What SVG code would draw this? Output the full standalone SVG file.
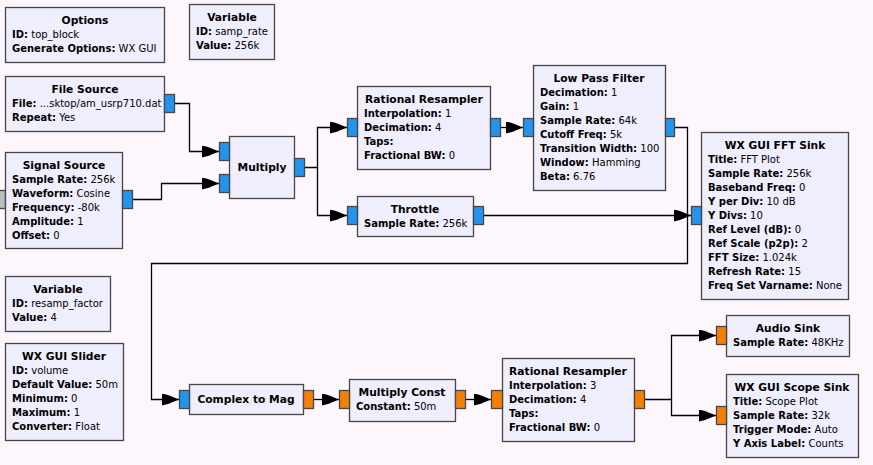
<svg xmlns="http://www.w3.org/2000/svg" width="873" height="465" viewBox="0 0 873 465">
<defs>
<style>
.bg{fill:#FDF6FD}
.blk{fill:#EEEEFC;stroke:#474747;stroke-width:1.3}
.pc{fill:#2394EE;stroke:#474747;stroke-width:1.3}
.pf{fill:#F57F00;stroke:#474747;stroke-width:1.3}
.pg{fill:#BDBDBD;stroke:#474747;stroke-width:1.3}
text{font-family:"DejaVu Sans",sans-serif;font-size:10px;fill:#000}
.ti{font-weight:bold;text-anchor:middle;font-size:10.7px}
.k{font-weight:bold}
.w{fill:none;stroke:#000;stroke-width:1.3}
</style>
<marker id="ar" markerUnits="userSpaceOnUse" markerWidth="18" markerHeight="12" refX="17" refY="6" orient="auto">
<path d="M0,0 L6,1.5 L17,6 L6,10.5 L0,12 Z" fill="#000"/>
</marker>
</defs>
<rect class="bg" x="0" y="0" width="873" height="465"/>

<g id="connectors">
<path class="w" d="M174,103.5 H189.5 V151.5 H219" marker-end="url(#ar)"/>
<path class="w" d="M132,199.5 H161.5 V183.5 H219" marker-end="url(#ar)"/>
<path class="w" d="M304,167.5 H317.5 V127.5 H347" marker-end="url(#ar)"/>
<path class="w" d="M317.5,167.5 V215.5 H347" marker-end="url(#ar)"/>
<path class="w" d="M500,127.5 H523" marker-end="url(#ar)"/>
<path class="w" d="M483,215.5 H691" marker-end="url(#ar)"/>
<path class="w" d="M674,127.5 H687.5 V263.5 H151.5 V399.5 H179" marker-end="url(#ar)"/>
<path class="w" d="M313,399.5 H339" marker-end="url(#ar)"/>
<path class="w" d="M465,399.5 H491" marker-end="url(#ar)"/>
<path class="w" d="M644,399.5 H671.5 V335.5 H716" marker-end="url(#ar)"/>
<path class="w" d="M671.5,399.5 V415.5 H716" marker-end="url(#ar)"/>
</g>

<g id="options">
<rect class="blk" x="5.5" y="7.5" width="159" height="55"/>
<text class="ti" x="85" y="24">Options</text>
<text x="12" y="38"><tspan class="k">ID:</tspan> top_block</text>
<text x="12" y="52"><tspan class="k">Generate Options:</tspan> WX GUI</text>
</g>

<g id="var_samp_rate">
<rect class="blk" x="189.5" y="4.5" width="85" height="55"/>
<text class="ti" x="232" y="21">Variable</text>
<text x="196" y="35"><tspan class="k">ID:</tspan> samp_rate</text>
<text x="196" y="49"><tspan class="k">Value:</tspan> 256k</text>
</g>

<g id="file_source">
<rect class="blk" x="5.5" y="76.5" width="159" height="55"/>
<text class="ti" x="85" y="93">File Source</text>
<text x="12" y="107"><tspan class="k">File:</tspan> ...sktop/am_usrp710.dat</text>
<text x="12" y="121"><tspan class="k">Repeat:</tspan> Yes</text>
<rect class="pc" x="164.5" y="94.5" width="10" height="18"/>
</g>

<g id="signal_source">
<rect class="pg" x="-5.5" y="190.5" width="11" height="18"/>
<rect class="blk" x="5.5" y="152.5" width="117" height="96"/>
<text class="ti" x="64" y="169">Signal Source</text>
<text x="12" y="183"><tspan class="k">Sample Rate:</tspan> 256k</text>
<text x="12" y="197"><tspan class="k">Waveform:</tspan> Cosine</text>
<text x="12" y="211"><tspan class="k">Frequency:</tspan> -80k</text>
<text x="12" y="225"><tspan class="k">Amplitude:</tspan> 1</text>
<text x="12" y="239"><tspan class="k">Offset:</tspan> 0</text>
<rect class="pc" x="122.5" y="190.5" width="10" height="18"/>
</g>

<g id="multiply">
<rect class="blk" x="229.5" y="136.5" width="65" height="62"/>
<text class="ti" x="262" y="171">Multiply</text>
<rect class="pc" x="219.5" y="142.5" width="10" height="18"/>
<rect class="pc" x="219.5" y="174.5" width="10" height="18"/>
<rect class="pc" x="294.5" y="158.5" width="10" height="18"/>
</g>

<g id="rational_resampler_1">
<rect class="blk" x="357.5" y="86.5" width="133" height="83"/>
<text class="ti" x="424" y="103">Rational Resampler</text>
<text x="364" y="117"><tspan class="k">Interpolation:</tspan> 1</text>
<text x="364" y="131"><tspan class="k">Decimation:</tspan> 4</text>
<text x="364" y="145"><tspan class="k">Taps:</tspan></text>
<text x="364" y="159"><tspan class="k">Fractional BW:</tspan> 0</text>
<rect class="pc" x="347.5" y="118.5" width="10" height="18"/>
<rect class="pc" x="490.5" y="118.5" width="10" height="18"/>
</g>

<g id="throttle">
<rect class="blk" x="357.5" y="196.5" width="116" height="40"/>
<text class="ti" x="415" y="213">Throttle</text>
<text x="364" y="227"><tspan class="k">Sample Rate:</tspan> 256k</text>
<rect class="pc" x="347.5" y="206.5" width="10" height="18"/>
<rect class="pc" x="473.5" y="206.5" width="10" height="18"/>
</g>

<g id="low_pass_filter">
<rect class="blk" x="533.5" y="65.5" width="132" height="125"/>
<text class="ti" x="599" y="82">Low Pass Filter</text>
<text x="540" y="96"><tspan class="k">Decimation:</tspan> 1</text>
<text x="540" y="110"><tspan class="k">Gain:</tspan> 1</text>
<text x="540" y="124"><tspan class="k">Sample Rate:</tspan> 64k</text>
<text x="540" y="138"><tspan class="k">Cutoff Freq:</tspan> 5k</text>
<text x="540" y="152"><tspan class="k">Transition Width:</tspan> 100</text>
<text x="540" y="166"><tspan class="k">Window:</tspan> Hamming</text>
<text x="540" y="180"><tspan class="k">Beta:</tspan> 6.76</text>
<rect class="pc" x="523.5" y="118.5" width="10" height="18"/>
<rect class="pc" x="665.5" y="118.5" width="9" height="18"/>
</g>

<g id="wx_fft_sink">
<rect class="blk" x="701.5" y="132.5" width="147" height="167"/>
<text class="ti" x="775" y="149">WX GUI FFT Sink</text>
<text x="708" y="163"><tspan class="k">Title:</tspan> FFT Plot</text>
<text x="708" y="177"><tspan class="k">Sample Rate:</tspan> 256k</text>
<text x="708" y="191"><tspan class="k">Baseband Freq:</tspan> 0</text>
<text x="708" y="205"><tspan class="k">Y per Div:</tspan> 10 dB</text>
<text x="708" y="219"><tspan class="k">Y Divs:</tspan> 10</text>
<text x="708" y="233"><tspan class="k">Ref Level (dB):</tspan> 0</text>
<text x="708" y="247"><tspan class="k">Ref Scale (p2p):</tspan> 2</text>
<text x="708" y="261"><tspan class="k">FFT Size:</tspan> 1.024k</text>
<text x="708" y="275"><tspan class="k">Refresh Rate:</tspan> 15</text>
<text x="708" y="289"><tspan class="k">Freq Set Varname:</tspan> None</text>
<rect class="pc" x="691.5" y="206.5" width="10" height="18"/>
</g>

<g id="var_resamp_factor">
<rect class="blk" x="5.5" y="276.5" width="105" height="55"/>
<text class="ti" x="58" y="293">Variable</text>
<text x="12" y="307"><tspan class="k">ID:</tspan> resamp_factor</text>
<text x="12" y="321"><tspan class="k">Value:</tspan> 4</text>
</g>

<g id="wx_slider">
<rect class="blk" x="5.5" y="343.5" width="118" height="97"/>
<text class="ti" x="64" y="360">WX GUI Slider</text>
<text x="12" y="374"><tspan class="k">ID:</tspan> volume</text>
<text x="12" y="388"><tspan class="k">Default Value:</tspan> 50m</text>
<text x="12" y="402"><tspan class="k">Minimum:</tspan> 0</text>
<text x="12" y="416"><tspan class="k">Maximum:</tspan> 1</text>
<text x="12" y="430"><tspan class="k">Converter:</tspan> Float</text>
</g>

<g id="complex_to_mag">
<rect class="blk" x="189.5" y="384.5" width="114" height="30"/>
<text class="ti" x="246" y="403">Complex to Mag</text>
<rect class="pc" x="179.5" y="390.5" width="10" height="18"/>
<rect class="pf" x="303.5" y="390.5" width="10" height="18"/>
</g>

<g id="multiply_const">
<rect class="blk" x="349.5" y="379.5" width="106" height="42"/>
<text class="ti" x="402" y="396">Multiply Const</text>
<text x="356" y="410"><tspan class="k">Constant:</tspan> 50m</text>
<rect class="pf" x="339.5" y="390.5" width="10" height="18"/>
<rect class="pf" x="455.5" y="390.5" width="10" height="18"/>
</g>

<g id="rational_resampler_2">
<rect class="blk" x="502.5" y="358.5" width="132" height="83"/>
<text class="ti" x="568" y="375">Rational Resampler</text>
<text x="509" y="389"><tspan class="k">Interpolation:</tspan> 3</text>
<text x="509" y="403"><tspan class="k">Decimation:</tspan> 4</text>
<text x="509" y="417"><tspan class="k">Taps:</tspan></text>
<text x="509" y="431"><tspan class="k">Fractional BW:</tspan> 0</text>
<rect class="pf" x="491.5" y="390.5" width="11" height="18"/>
<rect class="pf" x="634.5" y="390.5" width="10" height="18"/>
</g>

<g id="audio_sink">
<rect class="blk" x="726.5" y="315.5" width="123" height="41"/>
<text class="ti" x="788" y="332">Audio Sink</text>
<text x="733" y="346"><tspan class="k">Sample Rate:</tspan> 48KHz</text>
<rect class="pf" x="716.5" y="326.5" width="10" height="18"/>
</g>

<g id="wx_scope_sink">
<rect class="blk" x="726.5" y="374.5" width="132" height="83"/>
<text class="ti" x="792" y="391">WX GUI Scope Sink</text>
<text x="733" y="405"><tspan class="k">Title:</tspan> Scope Plot</text>
<text x="733" y="419"><tspan class="k">Sample Rate:</tspan> 32k</text>
<text x="733" y="433"><tspan class="k">Trigger Mode:</tspan> Auto</text>
<text x="733" y="447"><tspan class="k">Y Axis Label:</tspan> Counts</text>
<rect class="pf" x="716.5" y="406.5" width="10" height="18"/>
</g>
</svg>
